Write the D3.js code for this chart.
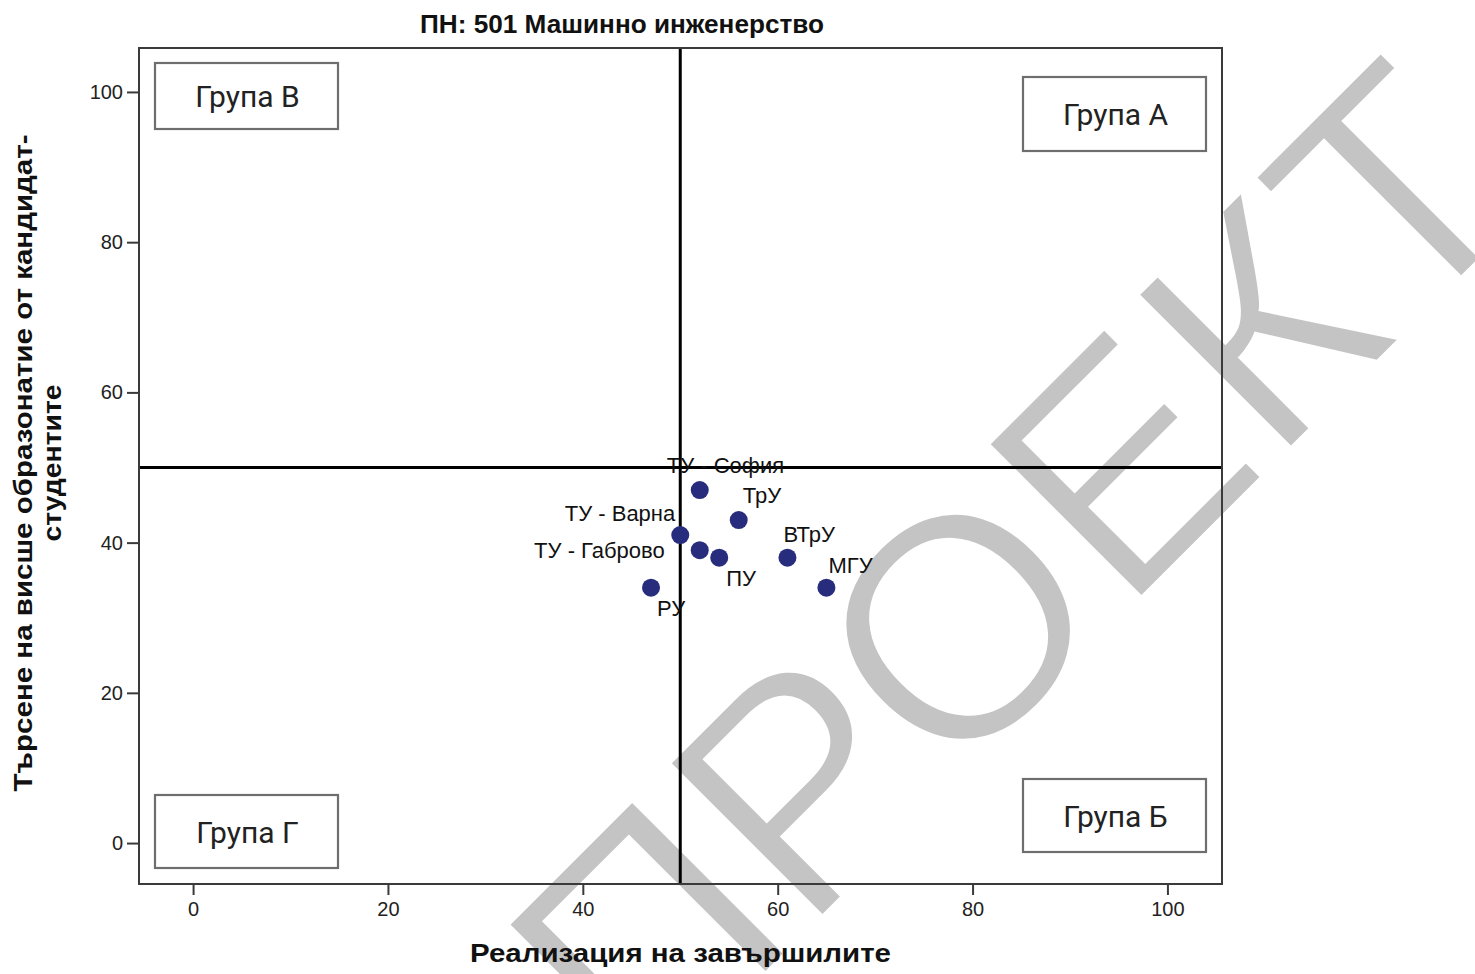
<!DOCTYPE html>
<html>
<head>
<meta charset="utf-8">
<script src="https://cdn.jsdelivr.net/npm/d3@7"></script>
<style>
  html, body { margin: 0; padding: 0; background: #ffffff; }
  svg { display: block; }
</style>
</head>
<body>
<svg id="chart" width="1475" height="974"></svg>
<script>
// ---------- data ----------
const title = "ПН: 501 Машинно инженерство";
const xTitle = "Реализация на завършилите";
const yTitleLines = ["Търсене на висше образонатие от кандидат-", "студентите"];
const categories = ["ТУ - София", "ТрУ", "ТУ - Варна", "ТУ - Габрово", "ПУ", "ВТрУ", "МГУ", "РУ"];
const realization = [52, 56, 50, 52, 54, 61, 65, 47];
const demand = [47, 43, 41, 39, 38, 38, 34, 34];
const xTicks = [0, 20, 40, 60, 80, 100];
const yTicks = [0, 20, 40, 60, 80, 100];
const refX = 50, refY = 50;
const groupNames = ["Група В", "Група А", "Група Г", "Група Б"];
const watermarkText = "ПРОЕКТ";

// ---------- layout ----------
const W = 1475, H = 974;
const plot = { left: 139, top: 48, right: 1222, bottom: 884 };
// label offsets from point centre: [dx, dy, anchor]
const labelLayout = [
  [-33, -17, "start"],
  [4, -17, "start"],
  [-5, -14, "end"],
  [-35, 8, "end"],
  [7, 28, "start"],
  [-4, -16, "start"],
  [2, -15, "start"],
  [6, 28, "start"]
];
// group boxes: [x0, y0, w, h] in px
const boxLayout = [
  [155, 63, 183, 66],
  [1023, 77, 183, 74],
  [155, 795, 183, 73],
  [1023, 779, 183, 73]
];

const svg = d3.select("#chart");
const font = "'Liberation Sans', Arial, sans-serif";

const x = d3.scaleLinear().domain([-5.55, 105.6]).range([plot.left, plot.right]);
const y = d3.scaleLinear().domain([-5.45, 105.85]).range([plot.bottom, plot.top]);

// watermark (behind everything)
svg.append("text")
  .attr("transform", "translate(643,1097) rotate(-45)")
  .attr("font-family", font)
  .attr("font-size", 317)
  .attr("fill", "#c4c4c4")
  .attr("stroke", "#ffffff")
  .attr("stroke-width", 5)
  .attr("stroke-linejoin", "miter")
  .text(watermarkText);

// reference lines
svg.append("line")
  .attr("x1", x(refX)).attr("x2", x(refX))
  .attr("y1", plot.top).attr("y2", plot.bottom)
  .attr("stroke", "#000").attr("stroke-width", 3);
svg.append("line")
  .attr("x1", plot.left).attr("x2", plot.right)
  .attr("y1", y(refY)).attr("y2", y(refY))
  .attr("stroke", "#000").attr("stroke-width", 3);

// frame
svg.append("rect")
  .attr("x", plot.left).attr("y", plot.top)
  .attr("width", plot.right - plot.left).attr("height", plot.bottom - plot.top)
  .attr("fill", "none").attr("stroke", "#3a3a3a").attr("stroke-width", 2);

// axes
const xAxis = svg.append("g")
  .attr("transform", `translate(0,${plot.bottom})`)
  .call(d3.axisBottom(x).tickValues(xTicks).tickSize(11).tickPadding(7));
const yAxis = svg.append("g")
  .attr("transform", `translate(${plot.left},0)`)
  .call(d3.axisLeft(y).tickValues(yTicks).tickSize(12).tickPadding(4));
[xAxis, yAxis].forEach(g => {
  g.select(".domain").remove();
  g.selectAll(".tick line").attr("stroke", "#3a3a3a").attr("stroke-width", 2);
  g.selectAll(".tick text").attr("font-family", font).attr("font-size", 20).attr("fill", "#222");
});

// group boxes
const gb = svg.append("g");
groupNames.forEach((name, i) => {
  const [bx, by, bw, bh] = boxLayout[i];
  gb.append("rect").attr("x", bx).attr("y", by).attr("width", bw).attr("height", bh)
    .attr("fill", "#fff").attr("stroke", "#6e6e6e").attr("stroke-width", 2.2);
  gb.append("text").attr("x", bx + bw / 2 + 1).attr("y", by + bh / 2 + 11)
    .attr("text-anchor", "middle").attr("font-family", "Roboto, " + font)
    .attr("font-size", 30).attr("fill", "#222").text(name);
});

// points
const pts = categories.map((c, i) => ({ name: c, xv: realization[i], yv: demand[i], lay: labelLayout[i] }));
svg.append("g").selectAll("circle").data(pts).join("circle")
  .attr("cx", d => x(d.xv)).attr("cy", d => y(d.yv)).attr("r", 9)
  .attr("fill", "#272c7c");
svg.append("g").selectAll("text").data(pts).join("text")
  .attr("x", d => x(d.xv) + d.lay[0]).attr("y", d => y(d.yv) + d.lay[1])
  .attr("text-anchor", d => d.lay[2])
  .attr("font-family", font).attr("font-size", 22).attr("fill", "#111")
  .text(d => d.name);

// title
svg.append("text").attr("x", 622).attr("y", 33).attr("text-anchor", "middle")
  .attr("font-family", font).attr("font-weight", "bold").attr("font-size", 26).attr("fill", "#111")
  .attr("textLength", 404).attr("lengthAdjust", "spacingAndGlyphs")
  .text(title);

// x title
svg.append("text").attr("x", (plot.left + plot.right) / 2).attr("y", 962).attr("text-anchor", "middle")
  .attr("font-family", font).attr("font-weight", "bold").attr("font-size", 26).attr("fill", "#111")
  .attr("textLength", 421).attr("lengthAdjust", "spacingAndGlyphs")
  .text(xTitle);

// y title
const yc = 463;
const yLens = [657, 157];
yTitleLines.forEach((line, i) => {
  svg.append("text")
    .attr("transform", `translate(${32 + i * 29},${yc}) rotate(-90)`)
    .attr("text-anchor", "middle")
    .attr("font-family", font).attr("font-weight", "bold").attr("font-size", 26).attr("fill", "#111")
    .attr("textLength", yLens[i]).attr("lengthAdjust", "spacingAndGlyphs")
    .text(line);
});
</script>
</body>
</html>
